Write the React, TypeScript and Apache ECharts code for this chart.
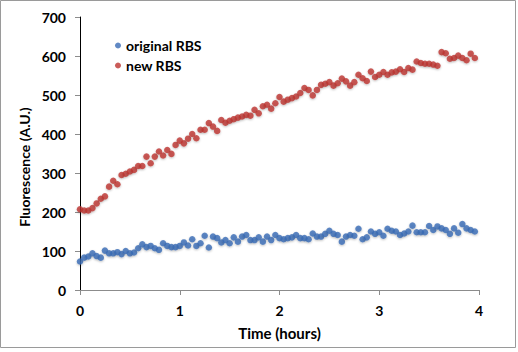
import React, { useEffect, useRef } from "react";
import * as echarts from "echarts";

// Sampling interval of the plate reader (minutes)
const SAMPLE_INTERVAL_MIN = 2.5;

const seriesNames = ["original RBS", "new RBS"];

const originalRBS = [
  73, 83, 86, 94, 87, 83, 101, 94, 94, 97, 92, 100, 94, 96, 107, 117, 110, 113, 107, 103,
  120, 113, 110, 110, 113, 122, 114, 130, 113, 120, 139, 109, 137, 133, 122, 128, 120, 135, 124, 137,
  141, 128, 128, 135, 124, 137, 128, 141, 133, 130, 133, 135, 141, 133, 133, 130, 145, 137, 137, 144,
  152, 144, 141, 124, 137, 141, 139, 157, 130, 135, 150, 144, 148, 139, 157, 152, 150, 141, 145, 150,
  165, 148, 148, 148, 164, 154, 163, 158, 154, 144, 158, 147, 169, 158, 154, 150,
];

const newRBS = [
  207, 204, 204, 210, 222, 234, 240, 265, 280, 271, 295, 298, 304, 308, 318, 318, 342, 325, 342, 355,
  345, 359, 349, 372, 383, 376, 388, 400, 389, 411, 411, 428, 419, 408, 436, 429, 434, 438, 442, 445,
  449, 447, 462, 453, 471, 475, 465, 479, 495, 483, 488, 492, 496, 505, 518, 513, 499, 513, 526, 529,
  533, 524, 530, 542, 535, 524, 533, 552, 543, 536, 560, 546, 552, 559, 552, 558, 560, 566, 559, 569,
  565, 586, 582, 580, 580, 578, 575, 610, 607, 593, 595, 601, 595, 589, 606, 595,
];

const xAxisTitle = "Time (hours)";
const yAxisTitle = "Fluorescence (A.U.)";

const FONT = "Lato, 'Open Sans', sans-serif";

function toPoints(values: number[]) {
  return values.map((v, i) => [(i * SAMPLE_INTERVAL_MIN) / 60, v]);
}

export default function App() {
  const ref = useRef<HTMLDivElement>(null);

  useEffect(() => {
    if (!ref.current) return;
    const chart = echarts.init(ref.current, undefined, { renderer: "svg" });
    const labelStyle = {
      color: "#000",
      fontFamily: FONT,
      fontWeight: "bold" as const,
      fontSize: 14,
    };
    chart.setOption({
      animation: false,
      backgroundColor: "#fff",
      grid: { left: 80, top: 17, width: 399, height: 273 },
      legend: {
        orient: "vertical",
        left: 110,
        top: 32,
        itemWidth: 6,
        itemHeight: 6,
        itemGap: 3,
        icon: "circle",
        data: seriesNames,
        textStyle: { ...labelStyle, lineHeight: 17 },
      },
      xAxis: {
        type: "value",
        min: 0,
        max: 4,
        interval: 1,
        splitLine: { show: false },
        axisLine: { show: true, lineStyle: { color: "#8c8c8c", width: 1 } },
        axisTick: { show: true, length: 5, lineStyle: { color: "#8c8c8c" } },
        axisLabel: { ...labelStyle, margin: 13 },
      },
      yAxis: {
        type: "value",
        min: 0,
        max: 700,
        interval: 100,
        splitLine: { show: false },
        axisLine: { show: true, lineStyle: { color: "#000", width: 1 } },
        axisTick: { show: true, length: 5, lineStyle: { color: "#8c8c8c" } },
        axisLabel: { ...labelStyle, margin: 14 },
      },
      graphic: [
        {
          type: "rect",
          shape: { x: 0.5, y: 0.5, width: 515, height: 347 },
          style: { fill: "none", stroke: "#9a9a9a", lineWidth: 1 },
          silent: true,
        },
        {
          type: "text",
          x: 279.5,
          y: 333,
          style: {
            text: xAxisTitle,
            fill: "#000",
            font: `bold 15px ${FONT}`,
            align: "center",
            verticalAlign: "middle",
          },
        },
        {
          type: "text",
          x: 24,
          y: 167,
          rotation: Math.PI / 2,
          style: {
            text: yAxisTitle,
            fill: "#000",
            font: `bold 14px ${FONT}`,
            align: "center",
            verticalAlign: "middle",
          },
        },
      ],
      series: [
        {
          name: seriesNames[0],
          type: "scatter",
          symbol: "circle",
          symbolSize: 6.5,
          data: toPoints(originalRBS),
          itemStyle: {
            color: "#3a6bb5",
            shadowBlur: 2,
            shadowColor: "rgba(0,0,0,0.3)",
            shadowOffsetY: 1,
          },
        },
        {
          name: seriesNames[1],
          type: "scatter",
          symbol: "circle",
          symbolSize: 6.5,
          data: toPoints(newRBS),
          itemStyle: {
            color: "#bd3330",
            shadowBlur: 2,
            shadowColor: "rgba(0,0,0,0.3)",
            shadowOffsetY: 1,
          },
        },
      ],
    });
    return () => chart.dispose();
  }, []);

  return (
    <div
      ref={ref}
      style={{ position: "fixed", left: 0, top: 0, width: 518, height: 352, background: "#fff" }}
    />
  );
}
